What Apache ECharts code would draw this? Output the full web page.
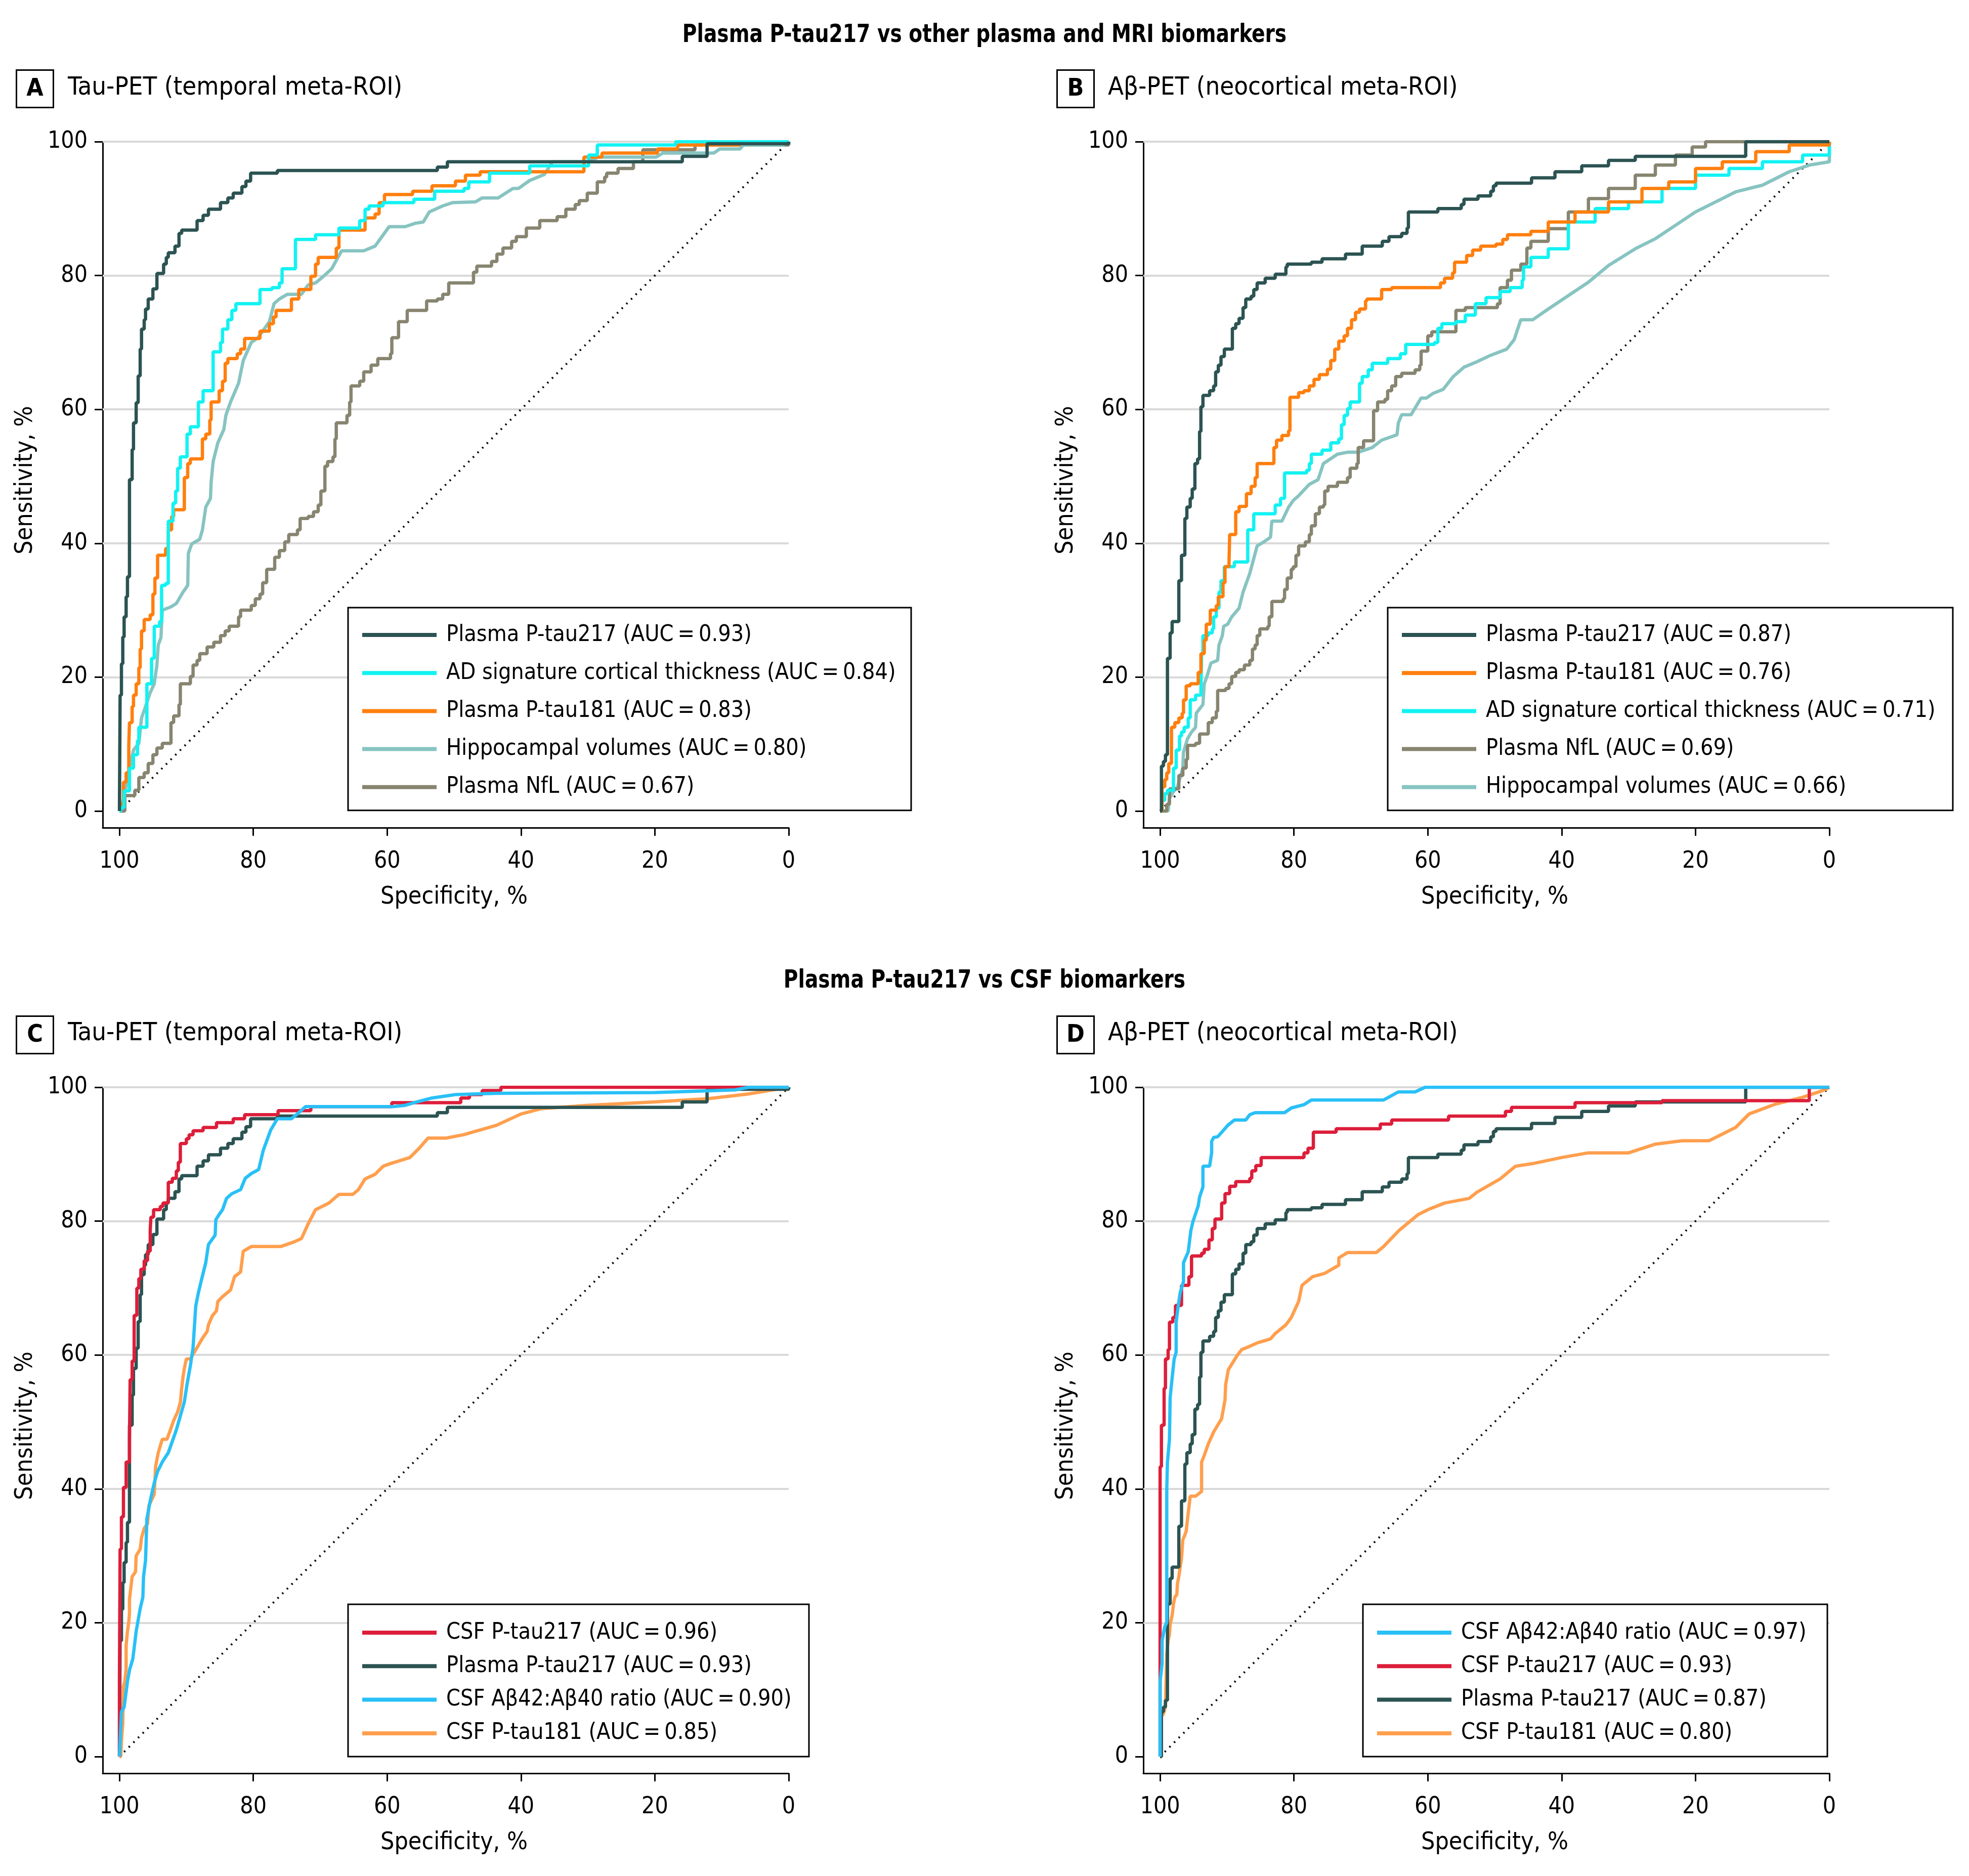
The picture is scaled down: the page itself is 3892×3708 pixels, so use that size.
<!DOCTYPE html>
<html><head><meta charset="utf-8">
<script src="https://cdn.jsdelivr.net/npm/echarts@6/dist/echarts.min.js"></script>
<style>html,body{margin:0;padding:0;background:#fff}#c{width:3892px;height:3708px}</style>
</head><body><div id="c"></div>
<script>
const FONT = "'Liberation Sans Narrow','DejaVu Sans Condensed','Liberation Sans',sans-serif";
const tickValues = [0, 20, 40, 60, 80, 100];
const gridValues = [20, 40, 60, 80, 100];
const refLine = [[100, 0], [0, 100]];
const EQ = '\u2009=\u2009';

// ---------- Panel A: Tau-PET, plasma & MRI ----------
const A_ptau217 = [[100,0],[99.9,17.3],[99.7,22],[99.5,26],[99.3,29],[99.0,32],[98.8,35],[98.5,49.5],[98.1,54],[97.9,58],[97.5,61],[97.2,65],[96.9,69],[96.7,72],[96.3,73.4],[96.1,75],[95.7,76.5],[95.0,78],[94.4,80.3],[93.4,81.7],[93.0,82.7],[92.7,83.4],[91.7,84.4],[91.1,86.3],[90.7,86.8],[88.4,88.2],[87.5,89],[86.7,89.9],[84.9,90.9],[83.8,91.6],[83.0,92.3],[81.7,93.3],[81.1,94.1],[80.4,95.3],[76.4,95.7],[52.5,96.2],[51,97],[15.9,97.8],[12.2,99.7],[0,100]];
const A_thickness = [[100,0],[99.8,0.5],[99.3,3],[98.5,6.4],[97.9,8.4],[97.3,10.5],[97.1,12.5],[95.9,19],[95.2,22.8],[94.8,27.6],[94.0,28.3],[93.7,33.7],[93.1,34],[92.7,43.3],[92.0,46],[91.6,47.8],[91.3,51.2],[90.9,52.9],[89.9,56.3],[89.4,57.4],[88.2,61.1],[87.5,62.8],[86.0,68.6],[84.9,70],[84.6,72],[83.8,73.4],[83.2,74.8],[82.6,75.8],[79.0,77.9],[77.2,78.2],[76.1,78.9],[75.7,81],[73.7,85.4],[70.7,86.1],[67.2,87.1],[64.1,88.2],[63.3,89.9],[62.7,90.4],[60.6,90.9],[56.0,91.4],[52.9,92.6],[48.5,93],[47.8,94],[44.7,95.3],[38.7,96.4],[29.9,98],[28.6,99.5],[16.9,100],[0,100]];
const A_ptau181 = [[100,0],[99.8,1],[99.4,4.3],[99.0,5.7],[98.6,9.8],[98.5,13.2],[98.1,15.6],[97.9,17.3],[97.5,19],[97.1,21.4],[96.9,24.2],[96.7,26.9],[96.3,28.6],[95.4,29.3],[95.0,32.4],[94.7,34.8],[94.3,38.2],[93.1,39.2],[92.7,42],[92.2,44],[91.9,45],[90.3,49.8],[89.8,51.9],[89.4,52.6],[87.6,55.6],[87.1,56.3],[86.5,58.4],[86.3,61.1],[85.1,62.8],[84.6,64.2],[84.2,66.9],[83.8,67.6],[82.4,68.3],[81.9,69],[81.3,70.6],[79.0,71.7],[77.6,72.8],[77.0,73.8],[76.6,74.8],[74.3,76.5],[73.2,77.9],[71.4,79.9],[70.7,81.7],[70.3,82.7],[67.6,84.1],[67.2,86.8],[63.3,88.6],[61.8,89.2],[61.2,90.9],[60.4,92.1],[56.2,92.6],[53.3,93.4],[49.8,94.1],[48.3,95],[46.1,95.5],[30.6,97.7],[27.9,98.3],[19.6,98.9],[16.6,99.5],[7.3,100],[0,100]];
const A_hippo = [[100,0],[99.6,0.9],[99.0,3.6],[98.5,6.4],[97.9,9.1],[97.1,10.1],[96.7,13.9],[96.1,15.6],[95.4,17.7],[94.8,19.0],[94.4,21.8],[94.2,24.8],[93.8,25.9],[93.6,30.0],[92.3,30.5],[91.5,31.0],[90.5,32.7],[89.8,33.7],[89.7,38.5],[89.2,39.9],[88.0,40.6],[87.6,42.0],[87.1,45.4],[86.4,46.7],[86.3,49.1],[86.0,52.2],[85.3,55.0],[84.4,57.0],[84.1,59.1],[83.4,61.1],[82.2,63.9],[81.5,67.3],[80.3,70.0],[79.3,70.7],[77.6,73.1],[76.9,75.8],[76.1,76.5],[74.9,77.2],[72.8,77.2],[71.8,78.6],[70.7,78.9],[69.5,79.9],[68.3,81.0],[66.8,83.7],[63.5,83.7],[61.8,84.4],[59.7,87.3],[57.3,87.3],[55.8,87.8],[54.6,88.0],[53.7,89.5],[51.7,90.4],[50.2,90.9],[46.8,91.0],[45.8,91.6],[43.4,91.6],[41.2,93.0],[40.4,93.0],[38.7,94.2],[36.5,95.1],[35.3,97.0],[30.2,97.0],[28.4,97.7],[19.8,97.7],[18.8,98.3],[11.2,98.3],[10.3,98.9],[7.3,98.9],[6.8,99.5],[0.9,99.5],[0,100]];
const A_nfl = [[100,0],[99.2,2.3],[97.7,3.1],[97.1,5.0],[96.3,5.7],[95.7,7.1],[95.0,8.4],[94.4,9.4],[93.6,10.1],[92.3,13.2],[91.9,14.2],[91.1,15.9],[90.9,19.0],[89.4,20.1],[89.0,21.8],[88.4,22.5],[88.0,23.5],[86.9,24.5],[85.9,25.2],[84.9,26.2],[84.2,26.9],[83.6,27.6],[82.2,29.0],[81.9,30.0],[80.3,30.7],[79.7,31.7],[79.0,32.4],[78.6,34.1],[78.0,36.1],[76.8,37.9],[76.1,38.9],[75.3,40.2],[74.7,41.3],[73.4,42.0],[73.0,43.7],[71.8,44.0],[71.0,44.7],[70.3,45.7],[69.9,47.8],[69.3,51.5],[68.9,52.2],[68.1,52.9],[67.8,55.6],[67.6,58.0],[66.0,59.1],[65.6,61.1],[65.4,63.5],[64.1,64.2],[63.5,65.6],[62.4,66.6],[61.4,67.6],[59.5,68.3],[59.3,70.7],[58.3,73.1],[57.0,74.8],[54.1,76.2],[52.5,76.5],[51.7,77.2],[50.8,78.9],[47.1,80.5],[46.6,81.4],[44.4,82.1],[43.6,83.2],[42.7,84.1],[41.4,85.1],[40.7,85.8],[39.2,87.1],[37.2,88.2],[34.6,88.8],[33.3,89.9],[31.9,90.6],[31.3,91.2],[30.1,92.3],[28.6,94.0],[27.5,94.7],[27.2,95.3],[25.5,96.0],[23.2,97.0],[21.8,98.8],[14,99.5],[0,100]];

// ---------- Panel B: Abeta-PET, plasma & MRI ----------
const B_ptau217 = [[100,0],[99.8,6.7],[99.5,7.4],[99.2,8.4],[98.9,22.8],[98.5,26.6],[98.2,28.3],[97.2,34.4],[96.8,38.2],[96.3,43.7],[96.0,45.4],[95.5,46.7],[95.2,48.1],[94.8,51.9],[94.4,52.6],[94.1,56.7],[93.9,60.4],[93.6,62.1],[92.6,62.8],[92.0,63.5],[91.7,65.6],[91.3,66.6],[90.9,67.9],[90.4,69.0],[89.2,72.1],[88.7,72.8],[88.2,73.6],[87.6,75.2],[87.2,76.5],[86.4,76.9],[86.0,77.9],[85.5,78.9],[84.3,79.6],[82.8,80.2],[81.2,81.3],[81.0,81.7],[77.4,82.0],[75.8,82.5],[72.3,83.2],[69.8,84.4],[66.8,85.1],[65.8,85.8],[63.9,86.3],[63.1,87.1],[62.9,89.5],[58.5,90.0],[55.0,90.6],[54.6,91.4],[52.5,91.9],[50.6,92.6],[50.2,93.4],[49.8,93.8],[44.5,94.6],[41,95.5],[37,96.4],[33,97.2],[29,97.8],[12.5,100],[0,100]];
const B_ptau181 = [[100,0],[99.7,3.6],[99.3,4.7],[99.0,5.7],[98.7,7.1],[98.3,12.5],[97.8,13.2],[97.2,13.9],[96.7,14.6],[96.5,16.6],[96.1,18.7],[95.5,19.0],[94.3,20.7],[93.9,23.5],[93.4,25.5],[93.1,27.9],[92.5,30.0],[91.6,30.7],[91.3,32.0],[90.6,34.1],[90.3,36.5],[89.7,37.2],[89.6,41.3],[88.7,44.7],[88.2,45.5],[87.1,47.4],[86.4,48.5],[85.8,49.8],[85.5,51.9],[83.0,54.3],[82.6,55.4],[81.8,56.1],[80.8,56.8],[80.6,61.8],[79.3,62.5],[78.5,62.8],[77.7,63.5],[77.0,64.5],[76.2,65.2],[75.0,66.0],[74.5,67.3],[73.9,69.0],[73.3,70.2],[72.5,71.0],[72.0,72.1],[71.4,73.4],[70.8,74.5],[70.2,75.0],[69.3,76.2],[69.1,76.5],[66.9,77.9],[65.4,78.2],[58.1,78.9],[57.5,79.6],[56.3,80.4],[56.0,82.0],[54.2,83.0],[53.3,83.8],[52.1,84.4],[49.8,84.7],[48.8,85.4],[48.1,86.1],[44.6,86.6],[42,88],[38,89.5],[33,91],[28,93],[24,94],[20,96],[16,97],[11,98.5],[6,99.5],[0,100]];
const B_thickness = [[100,0],[99.7,1.6],[99.3,2.6],[98.9,3.1],[98.0,6.4],[97.6,9.1],[97.1,11.2],[96.8,11.8],[96.4,12.5],[95.8,13.9],[95.5,16.6],[94.7,17.3],[93.9,18.0],[93.8,23.5],[93.6,26.2],[92.8,26.6],[92.2,27.2],[92.0,29.0],[91.6,30.3],[91.2,32.7],[90.9,34.4],[90.4,36.5],[88.9,37.2],[86.9,42.0],[86.0,44.4],[82.8,45.7],[82.0,46.7],[81.4,50.5],[78.1,50.9],[77.7,51.9],[77.4,53.3],[75.8,53.9],[74.5,55.0],[73.3,55.6],[72.9,57.7],[72.5,59.1],[72.0,60.1],[71.6,61.1],[70.2,63.9],[69.8,64.9],[68.9,65.9],[68.3,66.9],[66.0,67.6],[64.1,68.3],[63.3,69.7],[59.0,70.0],[58.5,72.1],[57.9,72.8],[55.8,73.1],[54.4,74.1],[52.9,75.8],[51.3,76.7],[49.2,77.6],[47.7,78.2],[45.9,79.3],[45.7,81.3],[44.6,82.7],[42,84],[39,88],[35,90],[30,91],[25,93],[20,95],[15,96],[10,97],[4,98],[0,100]];
const B_nfl = [[100,0],[99.0,1],[98.6,3.3],[97.2,5.3],[96.6,6.4],[96.1,7.7],[95.9,9.8],[94.7,10.1],[94.1,11.5],[92.8,13.2],[92.2,13.9],[91.6,14.9],[91.4,18.0],[90.2,18.3],[89.7,19.0],[89.3,20.1],[88.7,20.7],[88.2,21.1],[87.4,21.8],[86.6,22.5],[86.2,24.2],[85.8,24.8],[85.5,26.2],[85.1,27.2],[83.9,27.6],[83.7,29.0],[83.3,31.3],[81.6,31.7],[81.4,33.1],[81.0,34.8],[80.4,36.1],[80.1,36.5],[79.7,38.2],[79.3,39.6],[78.3,40.2],[77.7,41.3],[77.4,42.6],[76.8,44.4],[76.2,45.4],[75.6,45.7],[75.4,47.8],[74.9,48.5],[73.5,49.1],[72.0,49.8],[71.6,51.2],[70.6,51.9],[70.4,54.3],[69.6,55.3],[68.1,59.8],[67.5,61.1],[66.4,61.5],[66.0,62.8],[65.4,63.5],[64.8,64.9],[63.9,65.4],[61.9,65.9],[61.2,66.6],[61.0,68.7],[60.0,71.0],[59.4,71.6],[55.8,74.8],[54.4,75.2],[49.6,75.8],[49.2,78.2],[48.1,79.3],[47.5,80.8],[46.1,81.7],[45.2,84.1],[44.6,85.1],[42,87],[39,89.5],[36,91.5],[33,93],[29,95],[26,96.5],[23,98],[20.5,99.2],[18.5,100],[0,100]];
const B_hippo = [[100,0],[98.8,0],[98.6,1.9],[98.0,2.9],[97.4,3.6],[97.0,5.0],[96.6,6.4],[96.5,8.8],[95.9,10.8],[95.3,11.8],[94.7,12.5],[94.6,14.6],[93.6,15.9],[93.4,19.0],[93.0,20.1],[92.4,22.1],[91.4,22.5],[91.2,24.8],[90.7,26.2],[90.5,27.6],[89.9,27.9],[89.3,29.0],[88.2,30.3],[87.6,32.7],[86.6,35.5],[85.5,39.6],[84.5,40.2],[83.5,40.9],[83.3,43.3],[81.8,43.3],[80.8,45.4],[80.1,46.4],[79.3,47.1],[77.7,48.8],[76.4,49.5],[75.6,51.9],[73.5,53.3],[72.0,53.6],[70.4,53.6],[68.3,54.3],[66.9,55.4],[64.6,56.2],[64.4,58.0],[63.9,59.2],[62.5,59.2],[61.0,61.7],[60.2,61.7],[59.2,62.4],[57.7,63.0],[56.2,64.9],[54.6,66.3],[52.7,67.1],[50.8,68.0],[48.2,69.0],[47.1,70.4],[46.1,73.4],[44.3,73.4],[42,75],[39,77],[36,79],[33,81.5],[29,84],[26,85.5],[23,87.5],[20,89.5],[17,91],[14,92.5],[10,93.5],[6,95.5],[3,96.5],[0,97],[0,100]];

// ---------- Panel C: Tau-PET, CSF ----------
const C_csfPtau217 = [[100,0],[100,11.2],[99.9,31.0],[99.7,35.8],[99.4,40.2],[99.0,44.0],[98.5,47.4],[98.4,56.3],[98.1,59.1],[97.8,65.9],[97.4,70.0],[97.1,71.4],[96.8,72.8],[96.3,74.1],[95.8,75.5],[95.4,78.6],[95.3,80.6],[94.9,81.7],[93.9,82.2],[93.5,82.7],[92.7,85.8],[92.1,86.4],[91.5,87.5],[91.2,88.8],[90.9,91.6],[90.0,92.3],[89.6,92.9],[89.0,93.5],[87.5,94.0],[85.5,94.7],[83.0,95.3],[81.3,95.9],[76.3,96.5],[71.4,97.1],[59.3,97.7],[49.0,98.4],[47.7,98.9],[45.8,99.5],[43,100],[0,100]];
const C_plasmaPtau217 = A_ptau217;
const C_abRatio = [[100,0],[99.7,6.7],[99.3,7.4],[98.8,11.2],[98.5,12.9],[98.0,14.6],[97.5,18.7],[96.9,22.1],[96.5,23.8],[96.4,26.9],[96.1,29.3],[95.9,35.5],[95.4,38.2],[94.8,40.9],[94.3,42.6],[93.6,44.0],[92.7,45.4],[91.5,48.8],[90.3,53.0],[89.9,55.6],[89.4,58.4],[89.0,61.1],[88.6,67.3],[88.2,69.3],[87.7,71.4],[87.1,73.8],[86.7,76.5],[85.7,77.9],[85.6,80.2],[85.1,81.0],[84.6,81.7],[84.0,83.4],[83.2,84.1],[81.9,84.7],[81.2,86.4],[80.3,87.1],[79.2,87.7],[78.5,90.6],[77.4,93.6],[76.4,95.3],[74.3,95.3],[73.2,96.2],[72.2,97.1],[59.1,97.1],[57.3,97.3],[55.6,97.8],[53.3,98.4],[49.8,98.9],[43.7,99.1],[20,99.2],[8,99.6],[6,100],[0,100]];
const C_csfPtau181 = [[100,0],[99.8,0],[99.7,2.3],[99.5,5.0],[99.4,10.5],[99.2,11.2],[99.0,13.2],[99.0,16.6],[98.8,18.7],[98.6,20.1],[98.5,21.4],[98.5,23.5],[98.3,25.2],[98.1,26.9],[97.6,27.6],[97.5,30.0],[96.9,31.0],[96.7,32.7],[96.3,34.1],[95.8,34.8],[95.6,37.5],[94.8,39.2],[94.6,43.3],[94.2,45.4],[93.6,47.4],[92.9,47.4],[92.5,48.5],[91.9,50.2],[91.3,51.5],[90.9,52.9],[90.7,55.0],[90.5,56.7],[90.3,58.0],[90.0,59.4],[89.4,59.4],[89.0,60.1],[88.4,61.1],[87.6,62.5],[86.9,63.5],[86.7,64.5],[86.1,65.9],[85.5,66.6],[85.3,68.0],[84.6,68.7],[83.4,69.7],[82.8,71.7],[81.9,72.4],[81.5,75.5],[80.3,76.2],[75.9,76.2],[73.9,76.9],[72.8,77.4],[71.8,79.6],[70.7,81.7],[68.7,82.7],[67.2,84.0],[65.1,84.0],[64.3,84.7],[63.3,86.3],[61.8,87.0],[60.6,88.2],[59.5,88.6],[56.6,89.5],[55.2,90.9],[53.9,92.4],[51.2,92.4],[48.6,92.9],[43.7,94.3],[40,96],[37,96.8],[30,97.3],[20,97.8],[12,98.3],[6,99],[3,99.5],[0,100]];

// ---------- Panel D: Abeta-PET, CSF ----------
const D_abRatio = [[100,0],[100,11.2],[99.7,13.9],[99.7,17.3],[99.3,19.4],[99.0,20.1],[99.0,39.9],[98.9,44.0],[98.6,47.4],[98.5,53.6],[98.3,55.6],[97.9,59.4],[97.6,60.4],[97.6,64.9],[97.3,67.3],[97.0,69.3],[96.5,71.0],[96.5,73.8],[95.8,75.4],[95.4,78.6],[95.1,79.9],[94.3,82.3],[94.1,83.6],[93.6,85.1],[93.6,88.2],[92.6,88.2],[92.3,90.2],[92.3,91.9],[92.0,92.5],[91.4,92.6],[90.5,93.6],[89.9,94.3],[88.9,95.1],[87.2,95.1],[86.6,95.9],[85.8,96.2],[81.4,96.2],[80.4,96.9],[78.5,97.4],[77.4,98.1],[66.6,98.1],[64.4,99.3],[61.9,99.3],[60.4,100],[0,100]];
const D_csfPtau217 = [[100,0],[100,43.3],[99.8,49.5],[99.4,55.0],[99.2,59.4],[98.8,60.8],[98.6,64.9],[98.1,65.6],[97.7,67.4],[96.8,70.4],[95.7,71.7],[95.3,74.8],[93.8,75.2],[93.4,75.8],[92.7,77.2],[92.2,78.9],[91.8,80.3],[90.8,82.7],[90.3,84.1],[89.6,85.2],[88.7,85.9],[86.6,86.4],[86.3,87.5],[85.7,88.3],[84.9,89.5],[78.5,90.2],[77.9,90.9],[77.1,93.3],[73.7,93.8],[67.1,94.5],[65.4,95.1],[56.9,95.7],[48.4,96.4],[47.5,97.0],[38,97.7],[25,98.0],[3,100],[0,100]];
const D_plasmaPtau217 = B_ptau217;
const D_csfPtau181 = [[100,0],[99.8,0],[99.8,6.0],[99.5,6.4],[99.2,7.4],[99.0,15.3],[98.8,17.3],[98.6,18.3],[98.5,19.7],[98.2,21.1],[98.0,22.8],[97.8,23.8],[97.5,24.2],[97.4,25.9],[97.2,26.9],[97.0,28.3],[96.8,29.6],[96.6,32.4],[96.3,33.1],[96.1,33.7],[95.9,35.5],[95.5,38.9],[94.7,38.9],[93.8,39.6],[93.8,44.0],[93.4,45.0],[92.8,46.7],[92.0,48.5],[90.8,50.5],[90.3,53.3],[90.2,55.6],[89.8,57.8],[88.5,59.9],[87.8,60.8],[86.6,61.3],[85.5,61.8],[83.5,62.4],[82.8,63.2],[81.2,64.5],[80.4,65.6],[79.3,68.0],[78.8,70.4],[77.2,71.7],[75.4,72.2],[73.3,73.4],[73.3,74.5],[72.0,75.3],[67.7,75.3],[66.6,76.2],[64.3,78.6],[61.4,81.0],[60.0,81.7],[57.5,82.7],[53.8,83.4],[52.7,84.3],[49.2,86.3],[46.9,88.2],[44.3,88.6],[40,89.5],[36,90.2],[30,90.2],[26,91.5],[22,92],[18,92],[14,94],[12,96],[8,97.5],[4,98.5],[1,99.5],[0,100]];

// ---------- labels ----------
const mainTitles = ['Plasma P-tau217 vs other plasma and MRI biomarkers', 'Plasma P-tau217 vs CSF biomarkers'];
const panelLetters = ['A', 'B', 'C', 'D'];
const panelTitles = ['Tau-PET (temporal meta-ROI)', 'A\u03b2-PET (neocortical meta-ROI)', 'Tau-PET (temporal meta-ROI)', 'A\u03b2-PET (neocortical meta-ROI)'];
const auc = (s, v) => s + ' (AUC' + EQ + v + ')';

const COL = {
  dark: '#2B5352', cyan: '#12F2F2', orange: '#FF7F0E', hippo: '#87C4C1', nfl: '#878570',
  red: '#DC1E3A', blue: '#29C0F6', lorange: '#FF9F4E'
};

// panel definitions: [name, data, color, step, z]; list order = legend order
const panels = [
  [[auc('Plasma P-tau217', '0.93'), A_ptau217, COL.dark, true, 8],
   [auc('AD signature cortical thickness', '0.84'), A_thickness, COL.cyan, true, 7],
   [auc('Plasma P-tau181', '0.83'), A_ptau181, COL.orange, true, 6],
   [auc('Hippocampal volumes', '0.80'), A_hippo, COL.hippo, false, 5],
   [auc('Plasma NfL', '0.67'), A_nfl, COL.nfl, true, 4]],
  [[auc('Plasma P-tau217', '0.87'), B_ptau217, COL.dark, true, 8],
   [auc('Plasma P-tau181', '0.76'), B_ptau181, COL.orange, true, 7],
   [auc('AD signature cortical thickness', '0.71'), B_thickness, COL.cyan, true, 6],
   [auc('Plasma NfL', '0.69'), B_nfl, COL.nfl, true, 5],
   [auc('Hippocampal volumes', '0.66'), B_hippo, COL.hippo, false, 4]],
  [[auc('CSF P-tau217', '0.96'), C_csfPtau217, COL.red, true, 7],
   [auc('Plasma P-tau217', '0.93'), C_plasmaPtau217, COL.dark, true, 6],
   [auc('CSF A\u03b242:A\u03b240 ratio', '0.90'), C_abRatio, COL.blue, false, 8],
   [auc('CSF P-tau181', '0.85'), C_csfPtau181, COL.lorange, false, 5]],
  [[auc('CSF A\u03b242:A\u03b240 ratio', '0.97'), D_abRatio, COL.blue, false, 8],
   [auc('CSF P-tau217', '0.93'), D_csfPtau217, COL.red, true, 7],
   [auc('Plasma P-tau217', '0.87'), D_plasmaPtau217, COL.dark, true, 6],
   [auc('CSF P-tau181', '0.80'), D_csfPtau181, COL.lorange, false, 5]]
];

// layout
const GL = [203, 2260, 203, 2260], GT = [280, 280, 2149, 2149], GS = 1356;
const LEG = [
  {left: 688, top: 1201, gap: 25.2, pt: 29, pb: 21, w: 894},
  {left: 2743, top: 1201, gap: 25.2, pt: 29, pb: 21, w: 898},
  {left: 688, top: 3171, gap: 16.3, pt: 31, pb: 21, w: 692},
  {left: 2694, top: 3171, gap: 16.3, pt: 31, pb: 21, w: 699}
];
const BOX = [[31, 137], [2088, 137], [31, 2007], [2088, 2007]];
const TTL = [[134, 174], [2190, 174], [134, 2043], [2190, 2043]];

const grid = [], xAxis = [], yAxis = [], series = [], legend = [], graphic = [];
const axFont = {fontSize: 46, color: '#000', fontFamily: FONT};

for (let i = 0; i < 4; i++) {
  grid.push({left: GL[i], top: GT[i], width: GS, height: GS});
  xAxis.push({type: 'value', gridIndex: i, inverse: true, min: 0, max: 102.5,
    axisLine: {show: true, onZero: false, lineStyle: {color: '#000', width: 3}},
    axisTick: {show: true, customValues: tickValues, length: 16, lineStyle: {color: '#000', width: 3}},
    axisLabel: Object.assign({customValues: tickValues, margin: 44}, axFont),
    splitLine: {show: false},
    name: 'Specificity, %', nameLocation: 'middle', nameGap: 114,
    nameTextStyle: {fontSize: 48, color: '#000', fontFamily: FONT, padding: [0, 0, 0, 33]}});
  yAxis.push({type: 'value', gridIndex: i, min: -2.5, max: 100,
    axisLine: {show: true, onZero: false, lineStyle: {color: '#000', width: 3}},
    axisTick: {show: true, customValues: tickValues, length: 16, lineStyle: {color: '#000', width: 3}},
    axisLabel: Object.assign({customValues: tickValues, margin: 30}, axFont),
    splitLine: {show: false},
    name: 'Sensitivity, %', nameLocation: 'middle', nameGap: 128,
    nameTextStyle: {fontSize: 48, color: '#000', fontFamily: FONT, padding: [0, 0, 0, 18]}});
  series.push({type: 'line', xAxisIndex: i, yAxisIndex: i, data: refLine, symbol: 'none', silent: true, z: 2,
    lineStyle: {color: '#000', width: 4, type: [3, 10]},
    markLine: {silent: true, z: 1, symbol: ['none', 'none'], label: {show: false}, animation: false,
      lineStyle: {color: '#d9d9d9', width: 4, type: 'solid'},
      emphasis: {disabled: true},
      data: gridValues.map(v => ({yAxis: v}))}});
  panels[i].forEach(p => {
    series.push({type: 'line', name: p[0], xAxisIndex: i, yAxisIndex: i, data: p[1], step: p[3] ? 'end' : false,
      symbol: 'none', z: p[4], lineStyle: {color: p[2], width: 6.5}, itemStyle: {color: p[2]}});
  });
  const L = LEG[i];
  legend.push({orient: 'vertical', left: L.left, top: L.top, padding: [L.pt, 25, L.pb, 28], itemGap: L.gap,
    itemWidth: 147, itemHeight: 8, icon: 'rect', selectedMode: false,
    borderColor: '#000', borderWidth: 3, backgroundColor: '#fff',
    data: panels[i].map(p => p[0]),
    textStyle: {fontSize: 44.5, lineHeight: 50, color: '#000', fontFamily: FONT, width: L.w, padding: [0, 0, 0, 14]}});
  graphic.push({type: 'text', x: TTL[i][0], y: TTL[i][1],
    style: {text: panelTitles[i], fill: '#000', font: '50.5px ' + FONT, textAlign: 'left', textVerticalAlign: 'middle'}});
  graphic.push({type: 'group', left: BOX[i][0], top: BOX[i][1], children: [
    {type: 'rect', shape: {x: 0, y: 0, width: 73, height: 74}, style: {fill: '#fff', stroke: '#000', lineWidth: 3}},
    {type: 'text', x: 36.5, y: 38, style: {text: panelLetters[i], fill: '#000', font: 'bold 48px ' + FONT, textAlign: 'center', textVerticalAlign: 'middle'}}
  ]});
}
graphic.push({type: 'text', x: 1946, y: 70, scaleX: 0.87,
  style: {text: mainTitles[0], fill: '#000', font: 'bold 50px ' + FONT, textAlign: 'center', textVerticalAlign: 'middle'}});
graphic.push({type: 'text', x: 1946, y: 1939, scaleX: 0.87,
  style: {text: mainTitles[1], fill: '#000', font: 'bold 50px ' + FONT, textAlign: 'center', textVerticalAlign: 'middle'}});

const chart = echarts.init(document.getElementById('c'), null, {renderer: 'canvas'});
chart.setOption({animation: false, backgroundColor: '#fff', grid, xAxis, yAxis, series, legend, graphic});
</script></body></html>
